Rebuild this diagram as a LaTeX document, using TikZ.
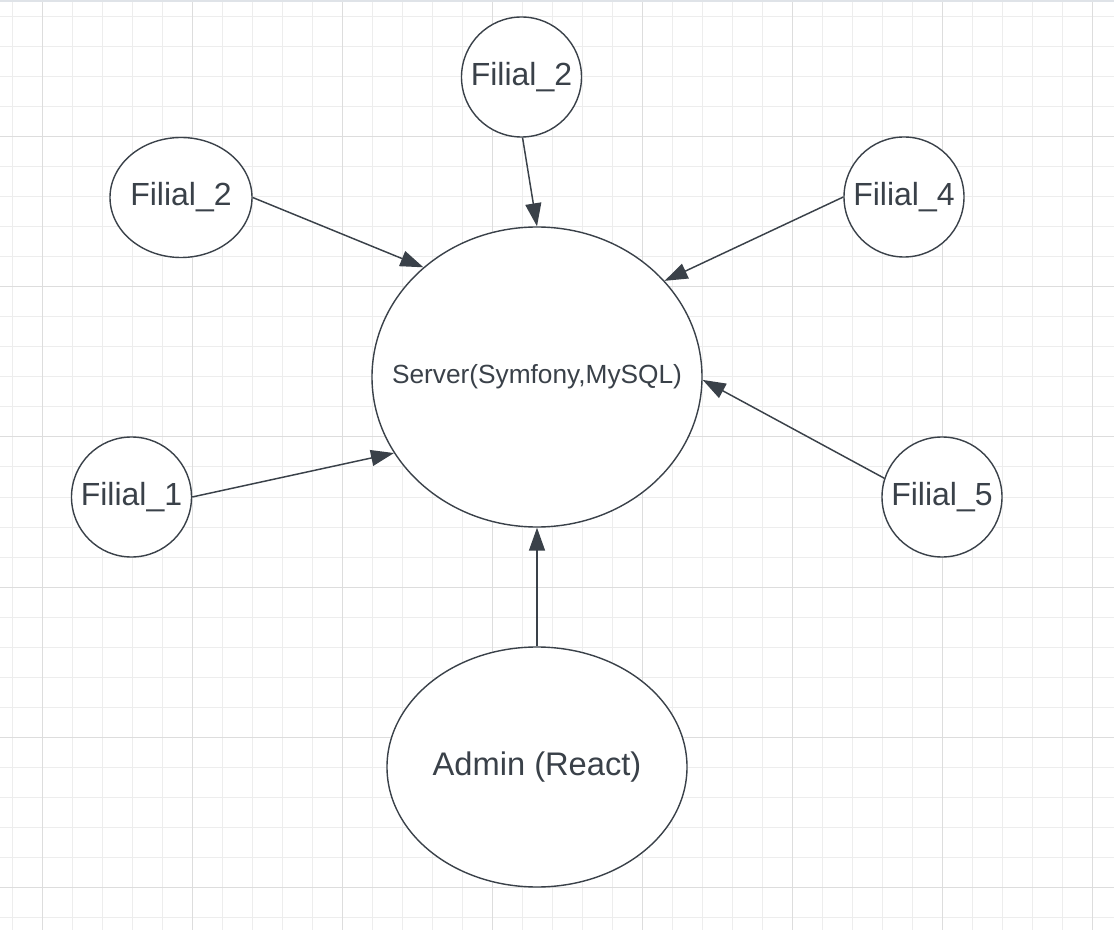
\documentclass[tikz,border=0pt]{standalone}
\usepackage{fontspec}
\setmainfont{Liberation Sans}
\usetikzlibrary{shapes.geometric,arrows.meta}
\definecolor{ink}{HTML}{3A4149}
\definecolor{gridminor}{HTML}{EDEDED}
\definecolor{gridmajor}{HTML}{DDDDDD}
\definecolor{topband}{HTML}{DFE3E8}
\def\u{0.75pt}
\tikzset{
  minorline/.style={draw=gridminor,line width=0.75pt},
  majorline/.style={draw=gridmajor,line width=0.75pt},
  bubble/.style={ellipse,draw=ink,line width=1.05pt,fill=white,inner sep=0pt},
  smallbub/.style={bubble,minimum width=120*\u,minimum height=120*\u},
  bigtext/.style={text=ink,font=\fontsize{24}{28}\selectfont},
  arr/.style={draw=ink,line width=1.1pt,-{Triangle[length=23*\u,width=16*\u]}}
}
\begin{document}
\begin{tikzpicture}[x=0.75pt,y=-0.75pt]
\useasboundingbox (0,0) rectangle (1114,930);
\fill[white] (0,0) rectangle (1114,930);
% grid
\foreach \i in {0,...,36} \draw[minorline] ({12.5+30*\i},0) -- ({12.5+30*\i},930);
\foreach \i in {0,...,30} \draw[minorline] (0,{17+30*\i}) -- (1114,{17+30*\i});
\foreach \i in {0,...,7} \draw[majorline] ({42.5+150*\i},0) -- ({42.5+150*\i},930);
\foreach \i in {0,...,5} \draw[majorline] (0,{137+150*\i}) -- (1114,{137+150*\i});
\fill[topband] (0,0) rectangle (1114,2.5);
% nodes
\node[bubble,minimum width=330*\u,minimum height=300*\u,
  label={[text=ink,font=\fontsize{19.7}{23}\selectfont]center:Server(Symfony,MySQL)}] (srv) at (537,377) {};
\node[smallbub,label={[bigtext]center:Filial\_2}] (f2t) at (521.5,77) {};
\node[smallbub,minimum width=142*\u,label={[bigtext]center:Filial\_2}] (f2l) at (181,197.5) {};
\node[smallbub,label={[bigtext]center:Filial\_4}] (f4) at (904,197) {};
\node[smallbub,label={[bigtext]center:Filial\_1}] (f1) at (131.5,497) {};
\node[smallbub,label={[bigtext]center:Filial\_5}] (f5) at (942,497) {};
\node[bubble,minimum width=300*\u,minimum height=240*\u,
  label={[text=ink,font=\fontsize{24.5}{29}\selectfont]center:Admin (React)}] (adm) at (537,767) {};
% connectors
\draw[arr] (f2t.271) -- (srv.90);
\draw[arr] (f2l.0) -- (srv.136);
\draw[arr] (f4.180) -- (srv.37);
\draw[arr] (f1.0) -- (srv.208);
\draw[arr] (f5.162) -- (srv.359);
\draw[arr] (adm.north) -- (srv.south);
\end{tikzpicture}
\end{document}
